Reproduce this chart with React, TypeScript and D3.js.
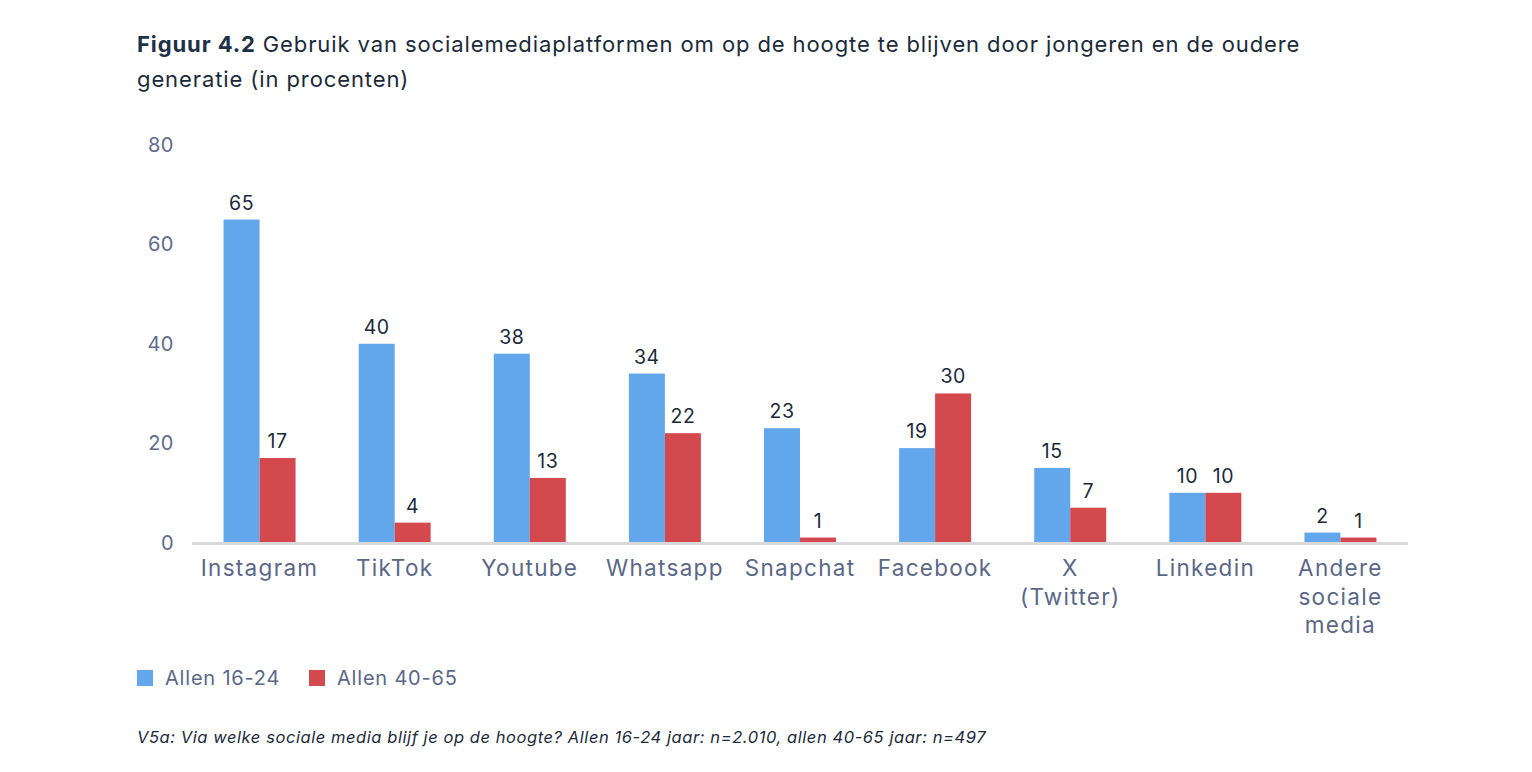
import React from "react";
import * as d3 from "d3";

const categories = [
  ["Instagram"],
  ["TikTok"],
  ["Youtube"],
  ["Whatsapp"],
  ["Snapchat"],
  ["Facebook"],
  ["X", "(Twitter)"],
  ["Linkedin"],
  ["Andere", "sociale", "media"],
];
const seriesNames = ["Allen 16-24", "Allen 40-65"];
const young = [65, 40, 38, 34, 23, 19, 15, 10, 2];
const older = [17, 4, 13, 22, 1, 30, 7, 10, 1];
const yTicks = [0, 20, 40, 60, 80];
const colors = ["#62A6EC", "#D3494E"];

const FONT = "Inter, sans-serif";

export default function App() {
  const W = 1532, H = 772;
  const x0 = d3.scaleBand<number>().domain(d3.range(categories.length)).range([192, 1408]).paddingInner(0).paddingOuter(0);
  const y = d3.scaleLinear().domain([0, 80]).range([542.5, 145]);
  const barW = 36;
  const series = [young, older];

  return (
    <svg width={W} height={H} style={{ position: "absolute", left: 0, top: 0, background: "#fff" }} fontFamily={FONT}>
      <text x={137} y={52} fontSize={22} fill="#1b2a3a" letterSpacing={0.9}>
        <tspan fontWeight={700} fill="#1d3149">Figuur 4.2</tspan>
        <tspan> Gebruik van socialemediaplatformen om op de hoogte te blijven door jongeren en de oudere</tspan>
      </text>
      <text x={137} y={87} fontSize={22} fill="#1b2a3a" letterSpacing={0.9}>generatie (in procenten)</text>

      {yTicks.map((t) => (
        <text key={t} x={174} y={y(t)} dy="0.35em" textAnchor="end" fontSize={20} fill="#5f6b8a" letterSpacing={0.5}>{t}</text>
      ))}

      {categories.map((c, i) => {
        const cx = (x0(i) as number) + x0.bandwidth() / 2;
        return (
          <g key={i}>
            {series.map((s, k) => {
              const bx = cx - barW + k * barW;
              return (
                <g key={k}>
                  <rect x={bx} y={y(s[i])} width={barW} height={y(0) - y(s[i])} fill={colors[k]} />
                  <text x={bx + barW / 2} y={y(s[i]) - 10} textAnchor="middle" fontSize={19.5} fill="#1b2a3a" letterSpacing={0.5}>{s[i]}</text>
                </g>
              );
            })}
            {c.map((line, j) => (
              <text key={j} x={cx} y={576 + j * 28.5} textAnchor="middle" fontSize={22.5} fill="#5b6787" letterSpacing={1.3}>{line}</text>
            ))}
          </g>
        );
      })}

      <line x1={192} x2={1408} y1={y(0) + 1} y2={y(0) + 1} stroke="#d9d9d9" strokeWidth={3} />

      {seriesNames.map((n, k) => (
        <g key={n} transform={`translate(${137 + k * 172},670)`}>
          <rect x={0} y={0} width={16} height={16} fill={colors[k]} />
          <text x={28} y={15} fontSize={20} fill="#5b6787" letterSpacing={0.8}>{n}</text>
        </g>
      ))}

      <text x={137} y={743} fontSize={16.5} fontStyle="italic" fill="#1b2a3a" letterSpacing={0.57}>
        V5a: Via welke sociale media blijf je op de hoogte? Allen 16-24 jaar: n=2.010, allen 40-65 jaar: n=497
      </text>
    </svg>
  );
}
